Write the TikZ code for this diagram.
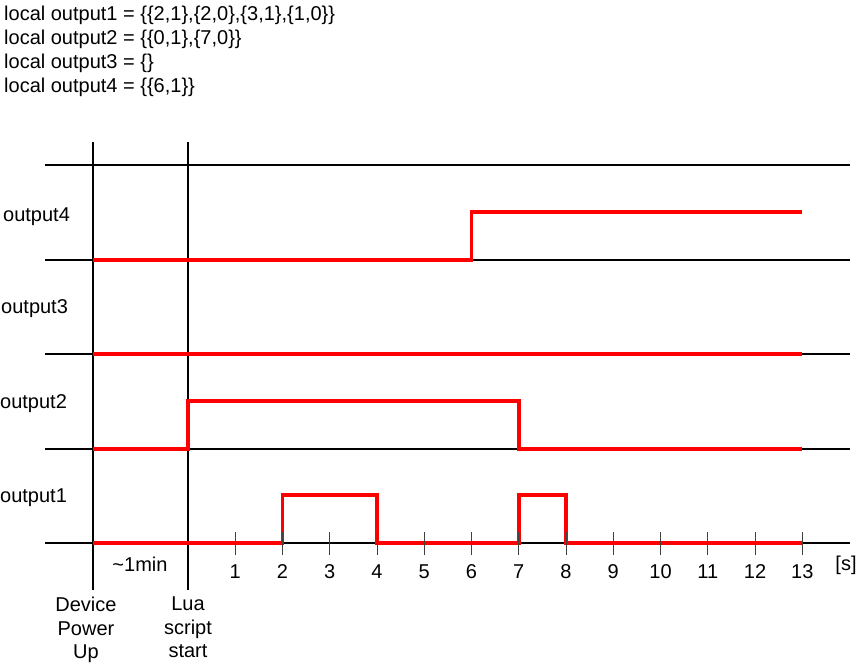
\documentclass[tikz,border=0pt]{standalone}
\usepackage{fontspec}
\setmainfont{Liberation Sans}
\usetikzlibrary{positioning}
\definecolor{sig}{HTML}{FF0000}
\tikzset{
  txt/.style={font=\fontsize{20}{23.5}\selectfont,inner sep=0pt},
  rail/.style={draw=black,line width=1.6pt},
  tickmark/.style={draw=black!75,line width=1pt},
  wave/.style={draw=sig,line width=3.6pt,line join=miter},
}

\begin{document}
\begin{tikzpicture}[x=1pt,y=-1pt]
\useasboundingbox (0,0) rectangle (857,667);
% lua listing
\node[txt,anchor=base west] (code1) at (4,20) {local output1 = \{\{2,1\},\{2,0\},\{3,1\},\{1,0\}\}};
\node[txt,anchor=base west] (code2) at (4,44) {local output2 = \{\{0,1\},\{7,0\}\}};
\node[txt,anchor=base west] (code3) at (4,68) {local output3 = \{\}};
\node[txt,anchor=base west] (code4) at (4,92) {local output4 = \{\{6,1\}\}};
% rails and the two markers
\foreach \y in {165,260,354,449,543}
  \draw[rail] (45,\y) -- (850,\y);
\coordinate (pwrtop) at (93,142); \coordinate (pwrbot) at (93,590);
\coordinate (luatop) at (188,142); \coordinate (luabot) at (188,590);
\draw[rail] (pwrtop) -- (pwrbot);
\draw[rail] (luatop) -- (luabot);
% channel names
\node[txt,anchor=base west] (out4) at (3,221) {output4};
\node[txt,anchor=base west] (out3) at (1,313) {output3};
\node[txt,anchor=base west] (out2) at (0,408) {output2};
\node[txt,anchor=base west] (out1) at (0,502) {output1};
% waveforms, time axis in seconds
\begin{scope}[xshift=188pt,x=47.25pt]
\draw[wave] (-2.01,260) -- (6,260) -- (6,212) -- (13,212);
\draw[wave] (-2.01,354) -- (13,354);
\draw[wave] (-2.01,449) -- (0,449) -- (0,401) -- (7,401) -- (7,449) -- (13,449);
\draw[wave] (-2.01,543) -- (2,543) -- (2,495) -- (4,495) -- (4,543) -- (7,543)
  -- (7,495) -- (8,495) -- (8,543) -- (13,543);
\foreach \t in {1,...,13} {
  \draw[tickmark] (\t,532) -- (\t,555);
  \node[txt,anchor=base] (t\t) at (\t,578) {\t};
}
\end{scope}
\node[txt,anchor=base] (delay) at (140,571) {\textasciitilde1min};
\node[txt,anchor=base] (unit) at (846,570) {[s]};
\node[txt,align=center,anchor=north] (pwr) at (86,597) {Device\\Power\\Up};
\node[txt,align=center,anchor=north] (lua) at (188,597) {Lua\\script\\start};
\end{tikzpicture}
\end{document}
